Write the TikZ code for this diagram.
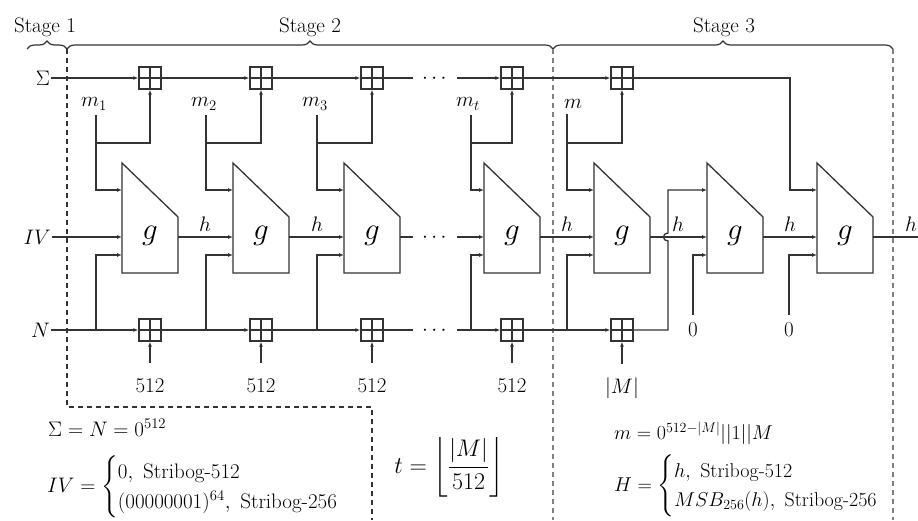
\RequirePackage{fix-cm}
\documentclass[tikz,border=0pt]{standalone}
\usepackage{amsmath}
\usetikzlibrary{arrows.meta,decorations.pathreplacing,calc}
\begin{document}
\begin{tikzpicture}[x=1pt,y=-1pt,
  every node/.style={font=\fontsize{21}{25}\selectfont, inner sep=1pt},
  lbl/.style={},
  formula/.style={inner sep=0pt},
  gfont/.style={font=\fontsize{31}{36}\selectfont},
  wire/.style={line width=1.3pt, draw=black!80},
  arr/.style={wire, -{Latex[length=5pt,width=4pt]}},
  adder/.style={draw=black!80, line width=1.3pt, minimum size=22pt, inner sep=0pt,
    path picture={\draw[line width=1.3pt,black!80]
      (path picture bounding box.north) -- (path picture bounding box.south)
      (path picture bounding box.west) -- (path picture bounding box.east);}},
  gbox/.style={minimum width=56pt, minimum height=110pt, inner sep=0pt, outer sep=0pt},
  stagebrace/.style={decorate, decoration={brace, amplitude=8pt}, line width=1.2pt, black!80},
  sep/.style={line width=1.2pt, black!80, dash pattern=on 5pt off 4pt},
  septwo/.style={line width=1.2pt, black!50, dash pattern=on 5pt off 4pt}]
\useasboundingbox (0,0) rectangle (918,520);

% stage braces and labels
\draw[stagebrace] (27,49) -- (67,49);
\draw[stagebrace] (67,49) -- (553,49);
\draw[stagebrace] (553,49) -- (893,49);
\node[lbl] (st1) at (45,27) {Stage 1};
\node[lbl] (st2) at (310,27) {Stage 2};
\node[lbl] (st3) at (724,27) {Stage 3};

% dashed separators
\draw[sep] (67,49) -- (67,407) -- (372,407) -- (372,520);
\draw[septwo] (553,49) -- (553,520);
\draw[septwo] (893,49) -- (893,520);

% g blocks
\foreach \i/\gl in {1/122,2/233,3/344,4/484,5/594,6/707,7/817}{
  \node[gbox] (g\i) at (\gl+28,218) {};
  \draw[wire] (g\i.north west) -- ([yshift=-54pt]g\i.north east) -- (g\i.south east) -- (g\i.south west) -- cycle;
  \node[gfont] (gl\i) at ([yshift=-18pt]g\i.center) {$g$};
  \coordinate (g\i t) at ([yshift=-27pt]g\i.north west);
  \coordinate (g\i m) at ([yshift=-19pt]g\i.west);
  \coordinate (g\i b) at ([yshift=-37pt]g\i.west);
  \coordinate (g\i o) at ([yshift=-19pt]g\i.east);
}

% adders
\foreach \i/\x in {1/150,2/261,3/372,4/512,5/622}{
  \node[adder] (a\i) at (\x,78) {};
  \node[adder] (n\i) at (\x,330) {};
}

% row labels
\node[lbl,anchor=east] (sig) at (51,78) {$\Sigma$};
\node[lbl,anchor=east] (iv) at (52,237) {$IV$};
\node[lbl,anchor=east] (nn) at (51,330) {$N$};

% dots
\coordinate (d1w) at (413,78);  \coordinate (d1e) at (457,78);
\coordinate (d2w) at (413,237); \coordinate (d2e) at (457,237);
\coordinate (d3w) at (413,330); \coordinate (d3e) at (457,330);
\node[anchor=base] (dot1) at (436,83) {$\cdots$};
\node[anchor=base] (dot2) at (436,242) {$\cdots$};
\node[anchor=base] (dot3) at (436,335) {$\cdots$};

% Sigma row
\draw[arr] (sig) -- (a1);
\draw[arr] (a1) -- (a2);
\draw[arr] (a2) -- (a3);
\draw[wire] (a3) -- (d1w);
\draw[arr] (d1e) -- (a4);
\draw[arr] (a4) -- (a5);
\draw[arr] (a5) -| ($(g7t)+(-27,0)$) -- (g7t);

% message columns
\foreach \i/\x/\lx/\lab in {1/96/94/m_1,2/206/204/m_2,3/317/315/m_3,4/471/468/m_t,5/567/573/m}{
  \node[lbl] (m\i) at (\lx,104) {$\lab$};
  \coordinate (j\i) at (\x,143);
  \coordinate (k\i) at (\x,330);
  \draw[wire] ($(m\i.south -| j\i)+(0,4)$) -- (j\i);
  \draw[arr] (j\i) -| (a\i);
  \draw[arr] (j\i) |- (g\i t);
  \draw[arr] (k\i) |- (g\i b);
}

% IV / h row
\draw[arr] (iv) -- (g1m);
\draw[arr] (g1o) -- (g2m);
\draw[arr] (g2o) -- (g3m);
\draw[wire] (g3o) -- (d2w);
\draw[arr] (d2e) -- (g4m);
\draw[arr] (g4o) -- (g5m);
\draw[arr] (g5o) -- (g6m);
\draw[arr] (g6o) -- (g7m);
\coordinate (out) at (918,237);
\draw[wire] (g7o) -- (out);
\foreach \i/\x in {1/205,2/317,3/567,4/678,5/790,6/911}{
  \node[lbl] (h\i) at (\x,224) {$h$};
}

% N row
\draw[arr] (nn) -- (n1);
\draw[arr] (n1) -- (n2);
\draw[arr] (n2) -- (n3);
\draw[wire] (n3) -- (d3w);
\draw[arr] (d3e) -- (n4);
\draw[arr] (n4) -- (n5);
\coordinate (k6) at (668,330);
\draw[arr] (n5) -- (k6) -- ($(k6 |- g6m)+(0,4)$) .. controls +(-6,0) and +(-6,0) .. ($(k6 |- g6m)+(0,-4)$) |- (g6t);

% zeros
\node[lbl] (z1) at (693,330) {0};
\node[lbl] (z2) at (789,330) {0};
\draw[arr] ([yshift=7pt]z1.north) |- (g6b);
\draw[arr] ([yshift=7pt]z2.north) |- (g7b);

% counters
\foreach \i/\x in {1/150,2/261,3/372,4/512}{
  \node[lbl] (b\i) at (\x,386) {512};
  \draw[arr] ([yshift=15pt]b\i.north) -- (n\i);
}
\node[lbl] (b5) at (622,388) {$|M|$};
\draw[arr] ([yshift=12pt]b5.north) -- (n5);

% formulas
\node[formula,anchor=west] (f1) at (48,428) {$\Sigma = N = 0^{512}$};
\node[formula,anchor=west] (f2) at (47,487) {$IV = \begin{cases} 0,\ \text{Stribog-512}\\ (00000001)^{64},\ \text{Stribog-256}\end{cases}$};
\node[formula,font=\fontsize{24}{28}\selectfont] (f3) at (449,467) {$t = \left\lfloor \dfrac{|M|}{512} \right\rfloor$};
\node[formula,anchor=west,font=\fontsize{20}{24}\selectfont] (f4) at (614,433) {$m = 0^{512-|M|}||1||M$};
\node[formula,anchor=west,font=\fontsize{20}{24}\selectfont] (f5) at (614,486) {$H = \begin{cases} h,\ \text{Stribog-512}\\ MSB_{256}(h),\ \text{Stribog-256}\end{cases}$};
\end{tikzpicture}
\end{document}
